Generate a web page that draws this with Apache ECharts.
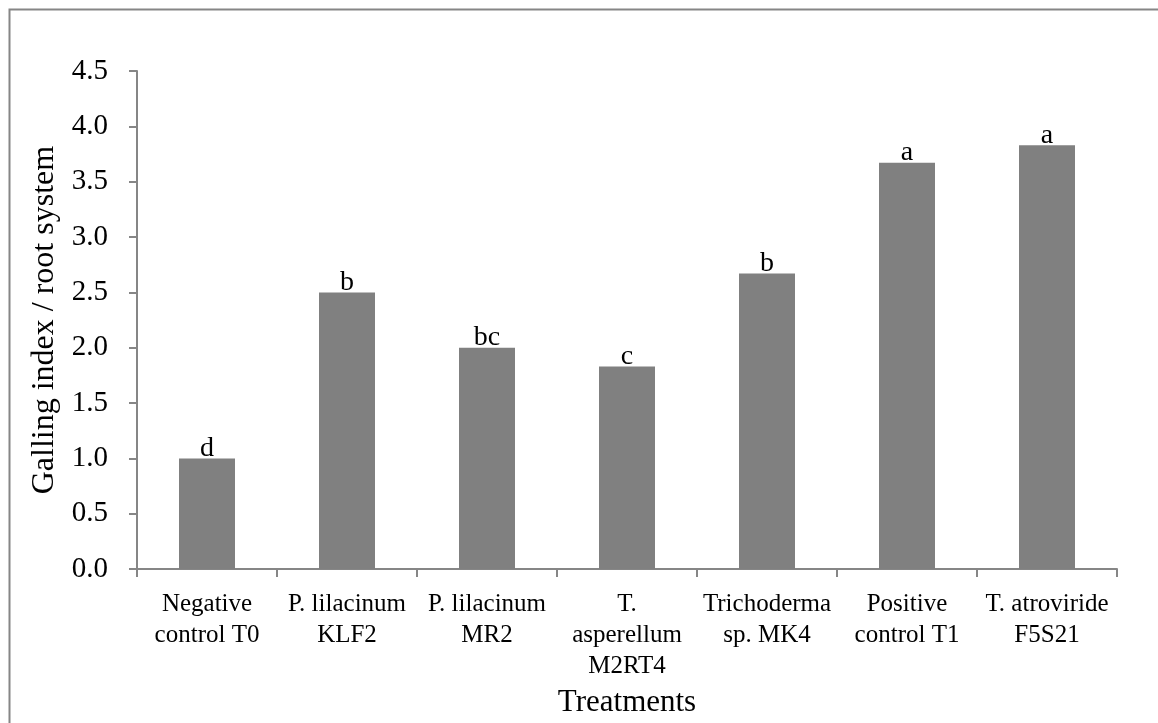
<!DOCTYPE html>
<html>
<head>
<meta charset="utf-8">
<script src="https://cdn.jsdelivr.net/npm/echarts@6/dist/echarts.min.js"></script>
<style>
html,body{margin:0;padding:0;background:#fff;}
#chart{width:1158px;height:723px;}
</style>
</head>
<body>
<div id="chart"></div>
<script>
var categories = ["Negative\ncontrol T0", "P. lilacinum\nKLF2", "P. lilacinum\nMR2", "T.\nasperellum\nM2RT4", "Trichoderma\nsp. MK4", "Positive\ncontrol T1", "T. atroviride\nF5S21"];
var gallingIndex = [1.0, 2.5, 2.0, 1.83, 2.67, 3.67, 3.83];
var letters = ["d", "b", "bc", "c", "b", "a", "a"];
var yTicks = { min: 0, max: 4.5, interval: 0.5 };
var xTitle = "Treatments";
var yTitle = "Galling index / root system";

var font = "'Liberation Serif', 'Times New Roman', serif";
var axisGray = "#868686";
var chart = echarts.init(document.getElementById('chart'), null, { renderer: 'canvas' });
chart.setOption({
  animation: false,
  backgroundColor: '#fff',
  graphic: [{
    type: 'rect',
    left: 7, top: 7,
    shape: { width: 1170, height: 740 },
    style: { fill: 'none', stroke: axisGray, lineWidth: 2 },
    silent: true
  }],
  grid: { left: 137, right: 41, top: 71, bottom: 148, containLabel: false },
  xAxis: {
    type: 'category',
    data: categories,
    name: xTitle,
    nameLocation: 'middle',
    nameGap: 116,
    nameTextStyle: { fontFamily: font, fontSize: 31, color: '#000' },
    axisLine: { lineStyle: { color: axisGray, width: 2 } },
    axisTick: { show: true, alignWithLabel: false, length: 8, lineStyle: { color: axisGray, width: 2 } },
    axisLabel: { interval: 0, fontFamily: font, fontSize: 25, color: '#000', margin: 20, lineHeight: 31, align: 'center' }
  },
  yAxis: {
    type: 'value',
    min: yTicks.min, max: yTicks.max, interval: yTicks.interval,
    name: yTitle,
    nameLocation: 'middle',
    nameGap: 76,
    nameTextStyle: { fontFamily: font, fontSize: 32, color: '#000' },
    splitLine: { show: false },
    axisLine: { show: true, lineStyle: { color: axisGray, width: 2 } },
    axisTick: { show: true, length: 8, lineStyle: { color: axisGray, width: 2 } },
    axisLabel: {
      fontFamily: font, fontSize: 29, color: '#000', margin: 29,
      formatter: function (v) { return v.toFixed(1); }
    }
  },
  series: [{
    type: 'bar',
    data: gallingIndex,
    barCategoryGap: '60%',
    itemStyle: { color: '#808080' },
    label: {
      show: true,
      position: 'top',
      distance: -4,
      fontFamily: font, fontSize: 28, color: '#000',
      formatter: function (p) { return letters[p.dataIndex]; }
    }
  }]
});
</script>
</body>
</html>
